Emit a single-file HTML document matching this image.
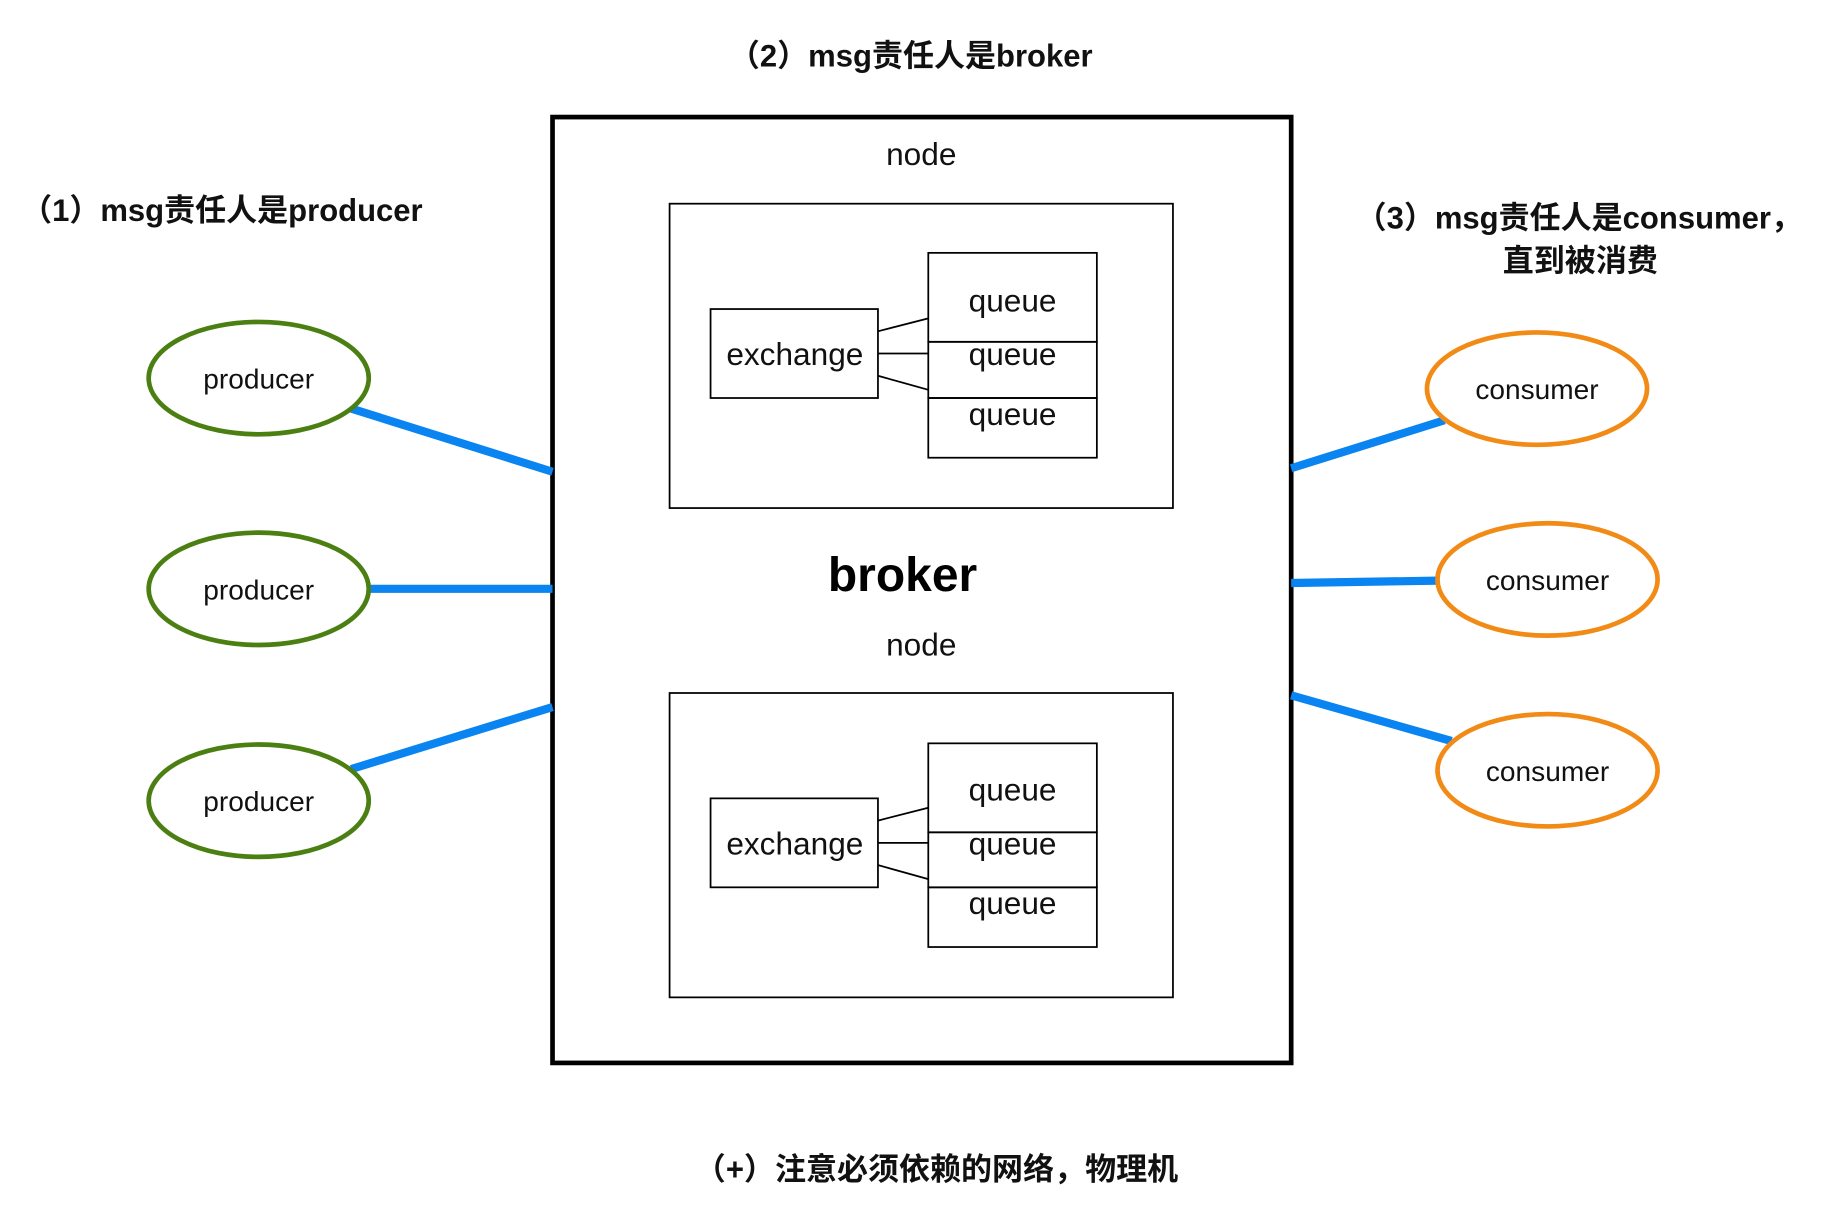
<!DOCTYPE html>
<html><head><meta charset="utf-8"><style>html,body{margin:0;padding:0;background:#fff}svg{display:block}</style></head>
<body>
<svg width="1832" height="1224" viewBox="0 0 1565 1045.6" xmlns="http://www.w3.org/2000/svg" font-family="'Liberation Sans','Noto Sans CJK SC',sans-serif">
<rect width="1565" height="1046" fill="#fff"/>
<g font-weight="bold" font-size="26.5" fill="#111">
<text x="778" y="57" text-anchor="middle">（2）msg责任人是broker</text>
<text x="18" y="189">（1）msg责任人是producer</text>
<text x="1158" y="195">（3）msg责任人是consumer，</text>
<text x="1350" y="232" text-anchor="middle">直到被消费</text>
<text x="800" y="1008" text-anchor="middle">（+）注意必须依赖的网络，物理机</text>
</g>
<rect x="472" y="100" width="631" height="808" fill="none" stroke="#000" stroke-width="4"/>
<g font-size="27" fill="#111" text-anchor="middle">
<text x="787" y="141">node</text>
<text x="787" y="560">node</text>
</g>
<text x="771" y="505" font-size="41" font-weight="bold" text-anchor="middle" fill="#000">broker</text>
<g fill="none" stroke="#000" stroke-width="1.5">
<rect x="572" y="174" width="430" height="260"/>
<rect x="607" y="264" width="143" height="76"/>
<rect x="793" y="216" width="144" height="76"/>
<rect x="793" y="292" width="144" height="48"/>
<rect x="793" y="340" width="144" height="51"/>
<line x1="750" y1="283" x2="793" y2="272"/>
<line x1="750" y1="302" x2="793" y2="302"/>
<line x1="750" y1="321" x2="793" y2="333"/>
</g>
<g font-size="27" fill="#111" text-anchor="middle">
<text x="679" y="312">exchange</text>
<text x="865" y="266">queue</text>
<text x="865" y="312">queue</text>
<text x="865" y="363">queue</text>
</g>
<g transform="translate(0,418)">
<g fill="none" stroke="#000" stroke-width="1.5">
<rect x="572" y="174" width="430" height="260"/>
<rect x="607" y="264" width="143" height="76"/>
<rect x="793" y="217" width="144" height="76"/>
<rect x="793" y="293" width="144" height="47"/>
<rect x="793" y="340" width="144" height="51"/>
<line x1="750" y1="283" x2="793" y2="272"/>
<line x1="750" y1="302" x2="793" y2="302"/>
<line x1="750" y1="321" x2="793" y2="333"/>
</g>
<g font-size="27" fill="#111" text-anchor="middle">
<text x="679" y="312">exchange</text>
<text x="865" y="266">queue</text>
<text x="865" y="312">queue</text>
<text x="865" y="363">queue</text>
</g>
</g>
<g stroke="#0a84f0" stroke-width="7" stroke-linecap="butt">
<line x1="300" y1="349" x2="472" y2="403"/>
<line x1="315" y1="503" x2="472" y2="503"/>
<line x1="300" y1="657" x2="472" y2="604"/>
<line x1="1103" y1="400" x2="1234" y2="359"/>
<line x1="1103" y1="498" x2="1229" y2="496"/>
<line x1="1103" y1="594" x2="1240" y2="633"/>
</g>
<g fill="none" stroke="#4b7f12" stroke-width="4">
<ellipse cx="221" cy="323" rx="94" ry="48"/>
<ellipse cx="221" cy="503" rx="94" ry="48"/>
<ellipse cx="221" cy="684" rx="94" ry="48"/>
</g>
<g fill="none" stroke="#f28a16" stroke-width="4">
<ellipse cx="1313" cy="332" rx="94" ry="48"/>
<ellipse cx="1322" cy="495" rx="94" ry="48"/>
<ellipse cx="1322" cy="658" rx="94" ry="48"/>
</g>
<g font-size="24" fill="#111" text-anchor="middle">
<text x="221" y="332">producer</text>
<text x="221" y="512">producer</text>
<text x="221" y="693">producer</text>
<text x="1313" y="341">consumer</text>
<text x="1322" y="504">consumer</text>
<text x="1322" y="667">consumer</text>
</g>
</svg>
</body></html>
